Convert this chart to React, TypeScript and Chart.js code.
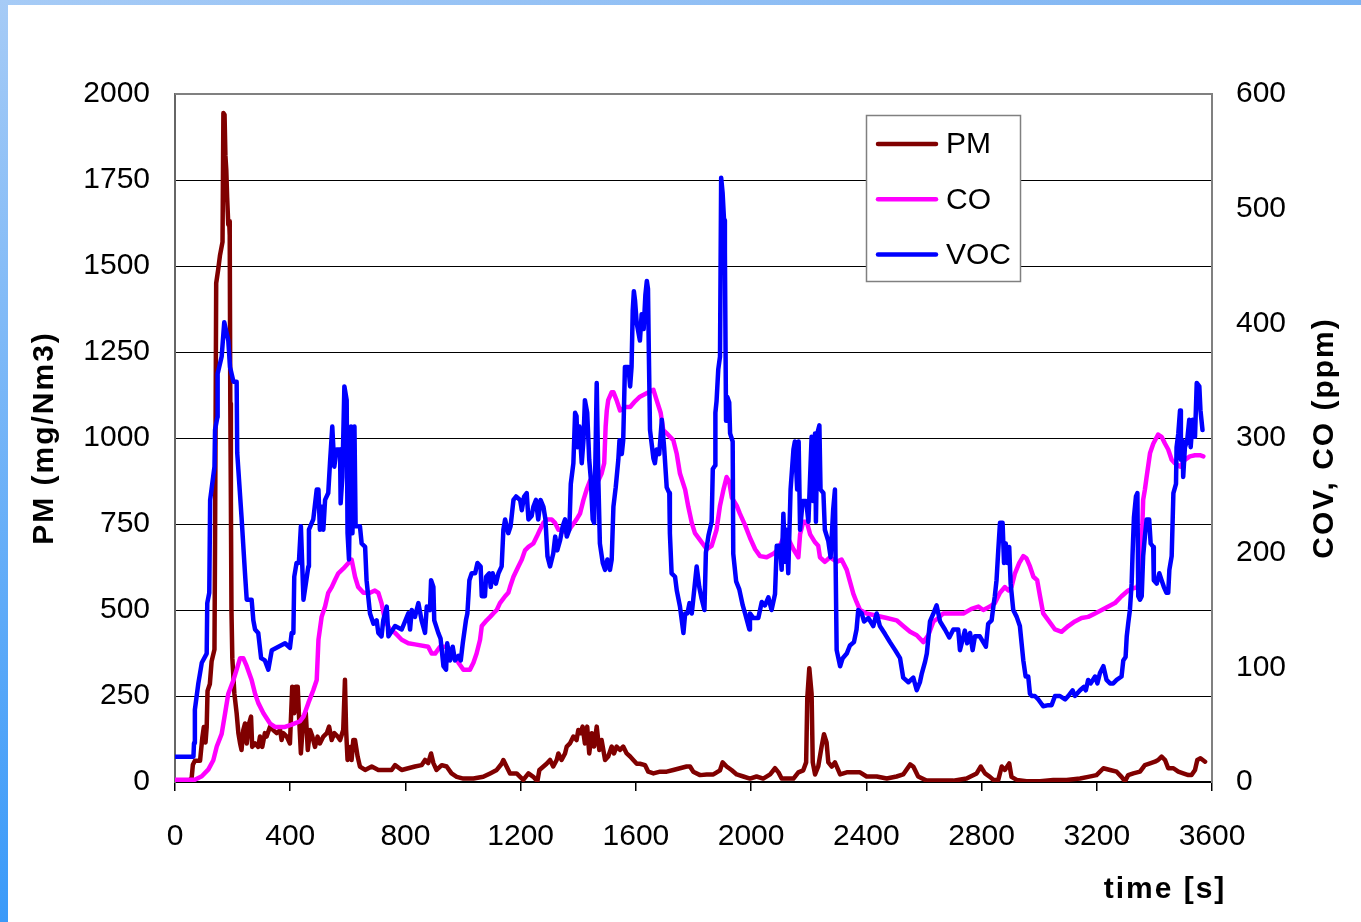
import React, { useEffect, useRef } from "react";
import { Chart, registerables } from "chart.js";

Chart.register(...registerables);

// ---- series data -------------------------------------------------------
// PM concentration (mg/Nm3, left axis)
const pmTime = [
  0, 50, 58, 62, 69, 87, 95, 100, 106, 110, 113, 121, 127, 137, 139, 143, 150, 156, 165, 168,
  172, 175, 178, 181, 185, 188, 190, 192, 194, 196, 199, 206, 214, 220, 226, 231, 237, 243, 249, 257,
  264, 268, 278, 289, 295, 303, 312, 318, 330, 341, 353, 365, 370, 376, 388, 399, 407, 414, 419, 426,
  430, 437, 446, 454, 461, 469, 477, 486, 495, 503, 515, 527, 535, 544, 553, 565, 573, 584, 590, 594,
  599, 608, 613, 619, 625, 634, 642, 660, 683, 706, 729, 752, 764, 787, 810, 833, 856, 868, 879, 889,
  897, 908, 926, 943, 960, 978, 1001, 1036, 1070, 1094, 1117, 1134, 1140, 1151, 1163, 1186, 1198, 1209, 1227, 1244,
  1258, 1265, 1279, 1290, 1302, 1313, 1325, 1331, 1342, 1354, 1360, 1371, 1383, 1394, 1400, 1408, 1415, 1423, 1431, 1438,
  1447, 1455, 1464, 1473, 1481, 1493, 1504, 1516, 1524, 1533, 1545, 1556, 1568, 1580, 1591, 1603, 1614, 1632, 1643, 1661,
  1684, 1707, 1730, 1753, 1776, 1788, 1799, 1823, 1846, 1869, 1892, 1901, 1915, 1933, 1950, 1973, 1996, 2019, 2042, 2066,
  2083, 2095, 2106, 2123, 2147, 2164, 2181, 2191, 2195, 2202, 2210, 2214, 2222, 2233, 2245, 2253, 2262, 2268, 2280, 2291,
  2309, 2332, 2355, 2378, 2401, 2436, 2471, 2505, 2528, 2552, 2563, 2580, 2609, 2656, 2702, 2748, 2760, 2783, 2797, 2812,
  2829, 2841, 2858, 2870, 2881, 2896, 2904, 2922, 2956, 3003, 3049, 3095, 3142, 3170, 3199, 3223, 3246, 3269, 3286, 3298,
  3309, 3327, 3350, 3367, 3385, 3402, 3413, 3425, 3437, 3448, 3466, 3483, 3500, 3518, 3529, 3541, 3549, 3560, 3576,
];
const pmValues = [
  0, 3, 13, 50, 62, 62, 130, 160, 115, 160, 265, 285, 350, 385, 690, 1450, 1490, 1530, 1570, 1945,
  1940, 1820, 1780, 1700, 1620, 1630, 1590, 1100, 820, 500, 360, 258, 200, 142, 112, 93, 151, 170, 112, 170,
  190, 102, 112, 102, 132, 102, 142, 132, 161, 151, 142, 151, 122, 142, 132, 112, 277, 200, 277, 277,
  200, 83, 190, 200, 93, 151, 132, 102, 132, 112, 132, 142, 161, 122, 142, 132, 122, 151, 297, 151,
  64, 102, 64, 122, 122, 74, 45, 35, 45, 35, 35, 35, 49, 35, 40, 45, 49, 64, 55, 83,
  55, 35, 49, 45, 25, 15, 10, 10, 15, 25, 35, 53, 64, 45, 25, 25, 15, 6, 25, 15,
  2, 35, 45, 53, 64, 45, 64, 83, 64, 83, 103, 112, 132, 122, 151, 142, 161, 112, 161, 83,
  142, 103, 161, 93, 122, 64, 74, 103, 83, 103, 93, 103, 83, 74, 64, 53, 53, 49, 30, 25,
  30, 30, 35, 40, 45, 45, 30, 20, 22, 22, 34, 57, 45, 34, 22, 16, 10, 16, 10, 22,
  40, 28, 10, 10, 10, 28, 34, 57, 244, 331, 256, 57, 22, 45, 104, 139, 115, 57, 45, 57,
  22, 28, 28, 28, 16, 16, 10, 16, 22, 51, 45, 16, 4, 4, 4, 10, 15, 25, 45, 25,
  15, 6, 6, 45, 35, 54, 15, 6, 2, 2, 6, 6, 10, 15, 20, 40, 35, 30, 15, 2,
  20, 25, 30, 49, 54, 59, 64, 74, 64, 40, 40, 30, 25, 20, 20, 35, 64, 69, 59,
];

// CO concentration (ppm, right axis)
const coTime = [
  0, 69, 93, 116, 133, 145, 162, 174, 185, 203, 214, 226, 237, 249, 266, 278, 289, 307, 330, 347,
  382, 405, 434, 446, 463, 480, 492, 498, 509, 521, 532, 544, 555, 567, 584, 602, 613, 625, 636, 654,
  677, 694, 706, 717, 729, 746, 764, 787, 810, 833, 879, 891, 903, 920, 943, 966, 984, 1001, 1024, 1036,
  1047, 1059, 1065, 1082, 1094, 1105, 1117, 1128, 1146, 1157, 1163, 1175, 1192, 1204, 1215, 1227, 1244, 1256, 1267, 1279,
  1290, 1308, 1319, 1331, 1342, 1360, 1377, 1394, 1406, 1418, 1429, 1441, 1452, 1470, 1481, 1490, 1495, 1499, 1504, 1516,
  1522, 1533, 1545, 1562, 1580, 1597, 1614, 1637, 1661, 1672, 1686, 1695, 1707, 1730, 1742, 1753, 1771, 1782, 1794, 1805,
  1823, 1846, 1863, 1880, 1892, 1904, 1915, 1924, 1933, 1950, 1961, 1979, 1996, 2014, 2031, 2054, 2077, 2095, 2112, 2123,
  2135, 2147, 2164, 2170, 2181, 2193, 2205, 2222, 2233, 2239, 2256, 2274, 2297, 2314, 2332, 2343, 2355, 2366, 2378, 2401,
  2436, 2471, 2505, 2528, 2552, 2575, 2598, 2615, 2633, 2650, 2667, 2702, 2737, 2765, 2789, 2806, 2829, 2846, 2864, 2881,
  2893, 2904, 2916, 2931, 2945, 2956, 2968, 2980, 2993, 3003, 3014, 3032, 3055, 3078, 3101, 3124, 3147, 3170, 3194, 3217,
  3240, 3263, 3286, 3309, 3327, 3341, 3350, 3356, 3361, 3367, 3373, 3385, 3396, 3413, 3425, 3437, 3448, 3460, 3471, 3489,
  3506, 3523, 3541, 3558, 3570,
];
const coValues = [
  2, 2, 5, 11, 19, 31, 42, 60, 77, 89, 98, 108, 108, 101, 89, 77, 69, 60, 51, 48,
  48, 50, 53, 57, 69, 80, 89, 124, 144, 153, 165, 170, 176, 182, 186, 191, 194, 179, 170, 165,
  165, 167, 165, 156, 141, 133, 130, 124, 121, 120, 118, 112, 112, 118, 118, 112, 104, 98, 98, 104,
  112, 124, 136, 141, 144, 147, 150, 156, 162, 165, 170, 179, 188, 194, 202, 205, 208, 214, 220, 226,
  229, 229, 226, 220, 220, 217, 223, 229, 234, 246, 255, 263, 263, 263, 269, 278, 310, 324, 333, 340,
  340, 333, 324, 327, 327, 332, 336, 339, 342, 333, 322, 307, 304, 298, 286, 269, 255, 240, 226, 217,
  211, 203, 206, 220, 241, 255, 266, 262, 248, 241, 234, 224, 213, 203, 197, 196, 199, 203, 213, 216,
  209, 203, 196, 216, 227, 227, 216, 209, 206, 196, 192, 196, 192, 194, 185, 175, 164, 157, 150, 147,
  145, 143, 141, 136, 131, 128, 122, 128, 140, 143, 147, 147, 147, 151, 153, 150, 153, 156, 165, 170,
  167, 170, 182, 191, 197, 195, 188, 179, 176, 162, 147, 141, 133, 131, 136, 140, 143, 144, 147, 150,
  153, 156, 162, 167, 169, 170, 179, 205, 246, 255, 266, 287, 295, 303, 301, 295, 290, 281, 278, 275,
  281, 284, 285, 285, 284,
];

// VOC concentration (ppm, right axis)
const vocTime = [
  0, 64, 66, 69, 81, 93, 110, 112, 119, 122, 137, 139, 147, 148, 162, 171, 185, 191, 203, 214,
  216, 231, 243, 249, 266, 272, 278, 289, 299, 312, 324, 336, 359, 382, 399, 405, 411, 414, 422, 430,
  437, 446, 463, 465, 480, 492, 498, 503, 509, 515, 521, 532, 538, 546, 553, 561, 573, 575, 581, 588,
  596, 599, 604, 611, 616, 623, 627, 642, 648, 660, 665, 677, 689, 700, 706, 717, 723, 735, 741, 764,
  787, 810, 816, 822, 833, 845, 856, 868, 874, 885, 889, 897, 900, 914, 922, 932, 941, 945, 955, 964,
  972, 984, 992, 999, 1010, 1015, 1022, 1030, 1042, 1050, 1061, 1065, 1076, 1080, 1091, 1096, 1103, 1114, 1123, 1134,
  1140, 1146, 1157, 1165, 1175, 1184, 1198, 1204, 1212, 1221, 1227, 1238, 1244, 1253, 1261, 1269, 1279, 1286, 1293, 1302,
  1313, 1320, 1327, 1337, 1346, 1354, 1360, 1369, 1374, 1383, 1389, 1394, 1397, 1404, 1412, 1418, 1423, 1431, 1438, 1443,
  1450, 1455, 1459, 1464, 1470, 1475, 1485, 1493, 1501, 1510, 1516, 1522, 1530, 1539, 1543, 1551, 1556, 1562, 1574, 1580,
  1585, 1589, 1593, 1597, 1603, 1614, 1620, 1627, 1633, 1638, 1642, 1645, 1649, 1661, 1666, 1672, 1681, 1690, 1698, 1707,
  1716, 1718, 1724, 1736, 1742, 1753, 1765, 1771, 1779, 1786, 1794, 1799, 1811, 1820, 1828, 1838, 1843, 1852, 1863, 1867,
  1875, 1876, 1880, 1886, 1892, 1896, 1901, 1906, 1909, 1913, 1917, 1924, 1927, 1936, 1938, 1948, 1959, 1971, 1979, 1994,
  1996, 2008, 2025, 2037, 2048, 2060, 2071, 2083, 2089, 2100, 2106, 2112, 2118, 2123, 2129, 2137, 2147, 2152, 2160, 2165,
  2170, 2179, 2191, 2199, 2210, 2216, 2222, 2225, 2230, 2237, 2241, 2251, 2256, 2268, 2276, 2285, 2291, 2293, 2297, 2309,
  2318, 2332, 2343, 2357, 2366, 2372, 2384, 2392, 2407, 2424, 2436, 2447, 2465, 2482, 2500, 2517, 2528, 2546, 2563, 2575,
  2586, 2592, 2604, 2610, 2621, 2633, 2644, 2656, 2673, 2688, 2702, 2719, 2725, 2737, 2742, 2750, 2760, 2769, 2777, 2794,
  2815, 2823, 2835, 2841, 2846, 2852, 2858, 2864, 2873, 2878, 2884, 2890, 2896, 2901, 2910, 2922, 2933, 2945, 2953, 2962,
  2968, 2974, 2985, 2997, 3014, 3032, 3043, 3055, 3072, 3090, 3101, 3116, 3124, 3142, 3155, 3162, 3170, 3179, 3194, 3202,
  3211, 3223, 3234, 3246, 3257, 3269, 3286, 3292, 3300, 3304, 3309, 3315, 3321, 3324, 3329, 3336, 3341, 3344, 3350, 3356,
  3361, 3367, 3373, 3382, 3387, 3396, 3398, 3408, 3417, 3425, 3433, 3442, 3448, 3452, 3460, 3466, 3475, 3477, 3483, 3489,
  3492, 3498, 3500, 3506, 3514, 3521, 3526, 3533, 3541, 3547, 3556, 3560, 3567,
];
const vocValues = [
  22, 22, 34, 63, 86, 104, 112, 156, 165, 246, 275, 307, 318, 356, 371, 401, 385, 362, 349, 349,
  287, 231, 182, 159, 159, 141, 133, 130, 108, 106, 98, 115, 118, 121, 117, 130, 130, 179, 191, 191,
  223, 159, 188, 220, 229, 255, 255, 220, 240, 220, 246, 252, 278, 310, 275, 290, 290, 243, 266, 345,
  333, 217, 194, 310, 217, 310, 223, 223, 208, 205, 176, 147, 138, 141, 130, 127, 141, 153, 127, 136,
  133, 147, 133, 150, 144, 156, 141, 130, 153, 150, 176, 170, 141, 130, 125, 101, 98, 121, 106, 118,
  106, 110, 106, 121, 141, 147, 176, 182, 182, 191, 188, 162, 162, 179, 182, 170, 182, 173, 182, 188,
  220, 229, 217, 223, 246, 249, 246, 237, 249, 252, 229, 232, 240, 246, 229, 246, 240, 229, 197, 188,
  199, 214, 202, 211, 223, 229, 214, 220, 260, 278, 322, 319, 292, 310, 278, 298, 333, 322, 281, 266,
  229, 226, 275, 348, 260, 208, 191, 185, 194, 185, 194, 240, 257, 281, 298, 286, 298, 362, 362, 345,
  362, 411, 428, 420, 400, 385, 408, 395, 425, 437, 430, 374, 307, 282, 278, 290, 286, 316, 292, 257,
  252, 217, 182, 179, 167, 153, 130, 147, 147, 156, 147, 159, 188, 170, 160, 150, 200, 215, 227, 273,
  276, 322, 332, 360, 371, 527, 514, 490, 462, 315, 336, 331, 304, 297, 199, 175, 168, 154, 147, 133,
  147, 143, 143, 157, 154, 161, 150, 164, 206, 206, 185, 234, 192, 220, 182, 255, 290, 297, 255, 297,
  220, 245, 245, 227, 301, 245, 304, 227, 304, 311, 255, 252, 220, 210, 196, 238, 255, 199, 115, 101,
  108, 112, 119, 122, 133, 150, 147, 140, 143, 136, 147, 136, 129, 122, 115, 108, 91, 87, 91, 80,
  87, 94, 105, 112, 140, 147, 154, 140, 133, 126, 133, 133, 115, 127, 132, 121, 130, 115, 127, 127,
  118, 138, 141, 153, 162, 176, 202, 226, 226, 191, 208, 191, 205, 173, 150, 144, 136, 106, 92, 92,
  77, 75, 75, 72, 66, 67, 67, 75, 75, 72, 75, 80, 75, 80, 83, 80, 89, 86, 92, 86,
  95, 101, 89, 86, 86, 89, 92, 106, 109, 127, 138, 150, 173, 197, 231, 249, 252, 162, 159, 162,
  197, 214, 229, 229, 208, 205, 176, 173, 182, 176, 170, 165, 165, 185, 197, 252, 260, 292, 304, 324,
  281, 298, 266, 292, 298, 316, 292, 316, 301, 348, 345, 324, 307,
];

const seriesLabels = ["PM", "CO", "VOC"];
const seriesColors = ["#800000", "#ff00ff", "#0000ff"];

// axis ranges
const timeMax = 3600;
const timeStep = 400;
const pmMax = 2000;
const pmStep = 250;
const ppmMax = 600;
const ppmStep = 100;

const FONT = '"Liberation Sans", Arial, Helvetica, sans-serif';

const toPoints = (xs: number[], ys: number[]) => xs.map((x, i) => ({ x, y: ys[i] }));
const plainNumber = (v: number | string) => String(v);

// gray frame line along the top of the plot area
const framePlugin = {
  id: "plotFrame",
  beforeDatasetsDraw(chart: any) {
    const { ctx, chartArea } = chart;
    ctx.save();
    ctx.strokeStyle = "#808080";
    ctx.lineWidth = 2;
    ctx.beginPath();
    ctx.moveTo(chartArea.left, chartArea.top);
    ctx.lineTo(chartArea.right, chartArea.top);
    ctx.stroke();
    ctx.restore();
  },
};

// boxed legend inside the plot area
const boxLegendPlugin = {
  id: "boxLegend",
  afterDatasetsDraw(chart: any) {
    const { ctx } = chart;
    const x0 = 866;
    const y0 = 115;
    const w = 154;
    const h = 166;
    ctx.save();
    ctx.fillStyle = "#ffffff";
    ctx.fillRect(x0, y0, w, h);
    ctx.strokeStyle = "#808080";
    ctx.lineWidth = 1.5;
    ctx.strokeRect(x0 + 0.5, y0 + 0.5, w, h);
    chart.data.datasets.forEach((ds: any, i: number) => {
      const y = 144 + i * 55.3;
      ctx.strokeStyle = ds.borderColor;
      ctx.lineWidth = 4.5;
      ctx.lineCap = "round";
      ctx.beginPath();
      ctx.moveTo(878, y);
      ctx.lineTo(936, y);
      ctx.stroke();
      ctx.fillStyle = "#000";
      ctx.font = `30px ${FONT}`;
      ctx.textAlign = "left";
      ctx.textBaseline = "middle";
      ctx.fillText(ds.label, 946, y + 1);
    });
    ctx.restore();
  },
};

// bold axis titles
const axisTitlesPlugin = {
  id: "axisTitles",
  afterDraw(chart: any) {
    const { ctx, chartArea } = chart;
    const midY = (chartArea.top + chartArea.bottom) / 2;
    ctx.save();
    ctx.font = `bold 30px ${FONT}`;
    ctx.fillStyle = "#000";
    ctx.textAlign = "center";
    ctx.textBaseline = "middle";
    (ctx as any).letterSpacing = "2px";

    ctx.save();
    ctx.translate(45, midY);
    ctx.rotate(-Math.PI / 2);
    ctx.fillText("PM (mg/Nm3)", 0, 0);
    ctx.restore();

    ctx.save();
    ctx.translate(1325, midY);
    ctx.rotate(-Math.PI / 2);
    ctx.fillText("COV, CO (ppm)", 0, 0);
    ctx.restore();

    ctx.fillText("time [s]", chartArea.right - 47, chartArea.bottom + 108);
    ctx.restore();
  },
};

export default function App() {
  const canvasRef = useRef<HTMLCanvasElement | null>(null);

  useEffect(() => {
    const canvas = canvasRef.current;
    if (!canvas) return;
    Chart.defaults.font.family = FONT;

    const lineDefaults = {
      borderWidth: 4.5,
      pointRadius: 0,
      tension: 0,
      fill: false,
      borderJoinStyle: "round" as const,
      borderCapStyle: "round" as const,
    };

    const chart = new Chart(canvas, {
      type: "line",
      data: {
        datasets: [
          {
            ...lineDefaults,
            label: seriesLabels[0],
            data: toPoints(pmTime, pmValues),
            borderColor: seriesColors[0],
            yAxisID: "yPM",
            order: 3,
          },
          {
            ...lineDefaults,
            label: seriesLabels[1],
            data: toPoints(coTime, coValues),
            borderColor: seriesColors[1],
            yAxisID: "yPPM",
            order: 2,
          },
          {
            ...lineDefaults,
            label: seriesLabels[2],
            data: toPoints(vocTime, vocValues),
            borderColor: seriesColors[2],
            yAxisID: "yPPM",
            order: 1,
          },
        ],
      },
      options: {
        animation: false,
        responsive: false,
        devicePixelRatio: 1,
        events: [],
        layout: { padding: { top: 94, left: 0, right: 0, bottom: 0 } },
        plugins: {
          legend: { display: false },
          tooltip: { enabled: false },
        },
        scales: {
          x: {
            type: "linear",
            position: "bottom",
            min: 0,
            max: timeMax,
            afterFit: (s: any) => {
              s.height = 140;
            },
            ticks: {
              stepSize: timeStep,
              autoSkip: false,
              maxRotation: 0,
              padding: 28,
              color: "#000",
              font: { size: 30, family: FONT },
              callback: plainNumber,
            },
            grid: {
              drawOnChartArea: false,
              drawTicks: true,
              tickLength: 9,
              color: "#000",
              lineWidth: 1.5,
            },
            border: { color: "#000", width: 1.5 },
          },
          yPM: {
            type: "linear",
            position: "left",
            min: 0,
            max: pmMax,
            afterFit: (s: any) => {
              s.width = 175;
            },
            ticks: {
              stepSize: pmStep,
              padding: 25,
              color: "#000",
              font: { size: 30, family: FONT },
              callback: plainNumber,
            },
            grid: { color: "#000", lineWidth: 1, drawTicks: false },
            border: { color: "#666", width: 2 },
          },
          yPPM: {
            type: "linear",
            position: "right",
            min: 0,
            max: ppmMax,
            afterFit: (s: any) => {
              s.width = 149;
            },
            ticks: {
              stepSize: ppmStep,
              padding: 24,
              color: "#000",
              font: { size: 30, family: FONT },
              callback: plainNumber,
            },
            grid: { drawOnChartArea: false, drawTicks: false },
            border: { color: "#808080", width: 2 },
          },
        },
      },
      plugins: [framePlugin, boxLegendPlugin, axisTitlesPlugin],
    });

    return () => chart.destroy();
  }, []);

  return (
    <div
      style={{
        position: "fixed",
        left: 0,
        top: 0,
        width: 1361,
        height: 922,
        background: "#ffffff",
        overflow: "hidden",
      }}
    >
      <div
        style={{
          position: "absolute",
          left: 0,
          top: 0,
          width: 1361,
          height: 5,
          background: "linear-gradient(to right, #a6cbf6, #7db4f3)",
        }}
      />
      <div
        style={{
          position: "absolute",
          left: 0,
          top: 0,
          width: 8,
          height: 922,
          background: "linear-gradient(to bottom, #a6cbf6, #3a9af9)",
        }}
      />
      <canvas
        ref={canvasRef}
        width={1361}
        height={922}
        style={{ position: "absolute", left: 0, top: 0, display: "block" }}
      />
    </div>
  );
}
